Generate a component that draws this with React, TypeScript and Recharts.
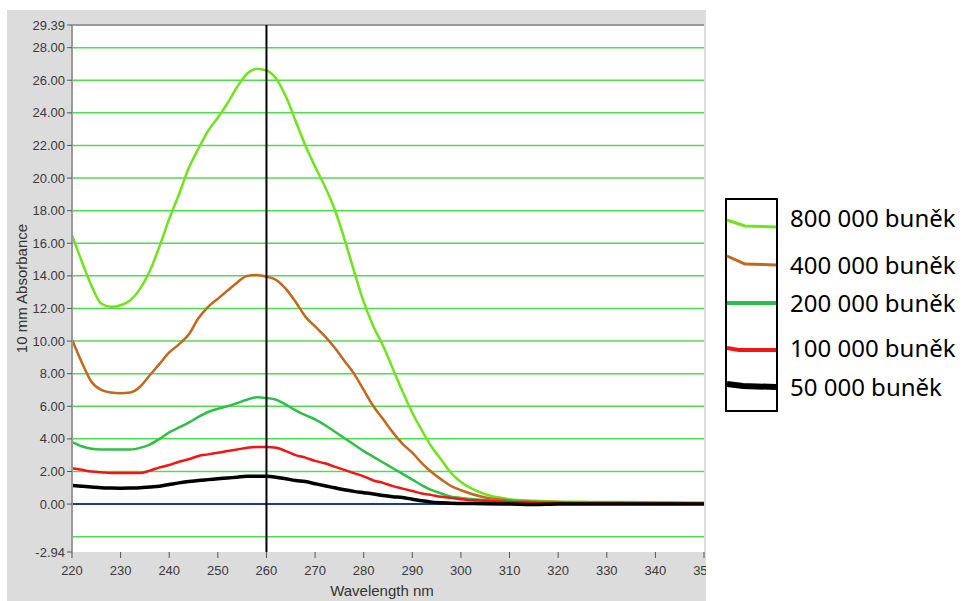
import React from "react";
import {
  LineChart,
  Line,
  XAxis,
  YAxis,
  CartesianGrid,
  ReferenceLine,
  Legend,
} from "recharts";

// wavelength grid (nm)
const wavelengths = [
  220, 222, 224, 226, 228, 230, 232, 234, 236, 238, 240, 242, 244, 246, 248, 250,
  252, 254, 256, 258, 260, 262, 264, 266, 268, 270, 272, 274, 276, 278, 280, 282,
  284, 286, 288, 290, 292, 294, 296, 298, 300, 305, 310, 315, 320, 325, 330, 335,
  340, 345, 350,
];

const cells800k = [
  16.5, 14.9, 13.4, 12.3, 12.1, 12.2, 12.5, 13.2, 14.3, 15.8, 17.5, 19.0, 20.6, 21.8, 22.9, 23.7,
  24.6, 25.6, 26.4, 26.7, 26.6, 26.1, 25.0, 23.5, 22.0, 20.7, 19.5, 18.1, 16.3, 14.3, 12.4, 10.9,
  9.7, 8.3, 6.9, 5.6, 4.5, 3.5, 2.7, 1.9, 1.35, 0.6, 0.3, 0.2, 0.15, 0.15, 0.12, 0.12,
  0.1, 0.1, 0.08,
];

const cells400k = [
  10.1, 8.7, 7.5, 7.0, 6.85, 6.8, 6.85, 7.2, 7.9, 8.6, 9.3, 9.8, 10.4, 11.4, 12.1, 12.6,
  13.1, 13.6, 14.0, 14.05, 13.95, 13.75, 13.2, 12.4, 11.5, 10.9, 10.3, 9.6, 8.8, 8.0, 7.0, 6.0,
  5.2, 4.4, 3.7, 3.15, 2.5, 1.95, 1.5, 1.1, 0.85, 0.4, 0.22, 0.15, 0.12, 0.1, 0.1, 0.08,
  0.08, 0.07, 0.06,
];

const cells200k = [
  3.8, 3.55, 3.4, 3.35, 3.35, 3.35, 3.35, 3.45, 3.65, 4.0, 4.4, 4.7, 5.0, 5.35, 5.65, 5.85,
  6.0, 6.2, 6.4, 6.55, 6.5, 6.4, 6.1, 5.75, 5.45, 5.2, 4.85, 4.45, 4.05, 3.65, 3.25, 2.9,
  2.55, 2.2, 1.85, 1.5, 1.15, 0.85, 0.65, 0.45, 0.38, 0.25, 0.18, 0.12, 0.1, 0.08, 0.08, 0.06,
  0.06, 0.05, 0.05,
];

const cells100k = [
  2.2, 2.1, 2.0, 1.95, 1.9, 1.9, 1.9, 1.9, 2.05, 2.25, 2.4, 2.6, 2.75, 2.95, 3.05, 3.15,
  3.25, 3.35, 3.45, 3.5, 3.5, 3.45, 3.25, 3.0, 2.85, 2.65, 2.5, 2.3, 2.1, 1.9, 1.7, 1.45,
  1.3, 1.1, 0.95, 0.8, 0.65, 0.55, 0.45, 0.38, 0.3, 0.2, 0.12, 0.08, 0.06, 0.05, 0.05, 0.04,
  0.04, 0.03, 0.03,
];

const cells50k = [
  1.15, 1.1, 1.05, 1.0, 0.98, 0.97, 0.98, 1.0, 1.05, 1.1, 1.2, 1.3, 1.38, 1.45, 1.5, 1.55,
  1.6, 1.65, 1.7, 1.7, 1.7, 1.65, 1.55, 1.45, 1.38, 1.25, 1.12, 1.0, 0.88, 0.78, 0.7, 0.62,
  0.52, 0.45, 0.4, 0.3, 0.2, 0.12, 0.08, 0.05, 0.04, 0.02, 0.0, -0.03, 0.0, 0.0, 0.0, 0.0,
  0.0, 0.0, 0.0,
];

const xTicks = [220, 230, 240, 250, 260, 270, 280, 290, 300, 310, 320, 330, 340, 350];
const yTicks = [-2.94, 0, 2, 4, 6, 8, 10, 12, 14, 16, 18, 20, 22, 24, 26, 28, 29.39];
const gridValues = [-2, 0, 2, 4, 6, 8, 10, 12, 14, 16, 18, 20, 22, 24, 26, 28];

const series = [
  { key: "c800", name: "800 000 buněk", color: "#6fe31c", width: 2.5 },
  { key: "c400", name: "400 000 buněk", color: "#c4661c", width: 2.5 },
  { key: "c200", name: "200 000 buněk", color: "#2fbf48", width: 2.5 },
  { key: "c100", name: "100 000 buněk", color: "#f01616", width: 2.5 },
  { key: "c50", name: "50 000 buněk", color: "#000000", width: 3.5 },
];

const data = wavelengths.map((nm, i) => ({
  nm,
  c800: cells800k[i],
  c400: cells400k[i],
  c200: cells200k[i],
  c100: cells100k[i],
  c50: cells50k[i],
}));

const tickFont = { fontFamily: "'Liberation Sans', Arial, sans-serif", fontSize: 13, fill: "#3a3a3a" };

// little sample strokes drawn in the legend box, like clipped bits of each curve
const legendSamples = [
  { points: "2,22 20,28 51,29", text: 20, sw: 3 },
  { points: "2,58 20,66 51,67", text: 67, sw: 3 },
  { points: "2,105 51,105", text: 105, sw: 4 },
  { points: "2,150 14,152 51,152", text: 150, sw: 4 },
  { points: "2,186 18,188 51,189", text: 189, sw: 6 },
];

function LegendBox() {
  return (
    <div style={{ position: "relative", width: 245, height: 216 }}>
      <div
        style={{
          position: "absolute",
          left: 0,
          top: 0,
          width: 53,
          height: 214,
          border: "2px solid #000",
          boxSizing: "border-box",
          background: "#fff",
        }}
      />
      <svg width={53} height={214} style={{ position: "absolute", left: 0, top: 0 }}>
        {series.map((s, i) => (
          <polyline
            key={s.key}
            points={legendSamples[i].points}
            fill="none"
            stroke={s.color}
            strokeWidth={legendSamples[i].sw}
          />
        ))}
      </svg>
      {series.map((s, i) => (
        <div
          key={s.key}
          style={{
            position: "absolute",
            left: 65,
            top: legendSamples[i].text - 16,
            height: 32,
            lineHeight: "32px",
            fontFamily: "'Noto Sans', sans-serif",
            fontSize: 24,
            color: "#000",
            whiteSpace: "nowrap",
          }}
        >
          {s.name}
        </div>
      ))}
    </div>
  );
}

export default function App() {
  return (
    <div style={{ position: "absolute", left: 0, top: 0, width: 965, height: 601, background: "#fff" }}>
      <div style={{ position: "absolute", left: 7, top: 10, width: 699, height: 591, background: "#dcdcdc" }}>
        <LineChart
          width={699}
          height={591}
          data={data}
          margin={{ top: 15, right: 2, left: 8, bottom: 1 }}
        >
          <CartesianGrid
            vertical={false}
            horizontalValues={gridValues}
            stroke="#4fdc4f"
            strokeWidth={1.5}
            fill="#ffffff"
            fillOpacity={1}
          />
          <XAxis
            dataKey="nm"
            type="number"
            domain={[220, 350]}
            ticks={xTicks}
            interval={0}
            allowDataOverflow
            height={48}
            axisLine={false}
            tickLine={{ stroke: "#555" }}
            tickSize={6}
            tickMargin={8}
            tick={tickFont}
            label={{
              value: "Wavelength nm",
              position: "insideBottom",
              offset: 4,
              dx: -6,
              style: { fontFamily: "'Liberation Sans', Arial, sans-serif", fontSize: 15, fill: "#333" },
            }}
          />
          <YAxis
            type="number"
            domain={[-2.94, 29.39]}
            ticks={yTicks}
            interval={0}
            allowDataOverflow
            width={57}
            axisLine={{ stroke: "#9a9a9a", strokeWidth: 2 }}
            tickLine={{ stroke: "#555" }}
            tickSize={5}
            tickMargin={2}
            tick={tickFont}
            tickFormatter={(v: number) => v.toFixed(2)}
            label={{
              value: "10 mm Absorbance",
              angle: -90,
              position: "insideLeft",
              offset: 7,
              style: {
                textAnchor: "middle",
                fontFamily: "'Liberation Sans', Arial, sans-serif",
                fontSize: 15,
                fill: "#333",
              },
            }}
          />
          <ReferenceLine y={29.39} stroke="#9a9a9a" strokeWidth={2} />
          <ReferenceLine y={0} stroke="#1d3c8f" strokeWidth={2} />
          {series.map((s) => (
            <Line
              key={s.key}
              type="monotone"
              dataKey={s.key}
              name={s.name}
              stroke={s.color}
              strokeWidth={s.width}
              dot={false}
              activeDot={false}
              isAnimationActive={false}
            />
          ))}
          <ReferenceLine x={260} stroke="#000" strokeWidth={2} />
          <Legend
            layout="vertical"
            align="center"
            verticalAlign="middle"
            content={() => <LegendBox />}
            wrapperStyle={{ left: 718, top: 188, width: 245, height: 216 }}
          />
        </LineChart>
      </div>
    </div>
  );
}
